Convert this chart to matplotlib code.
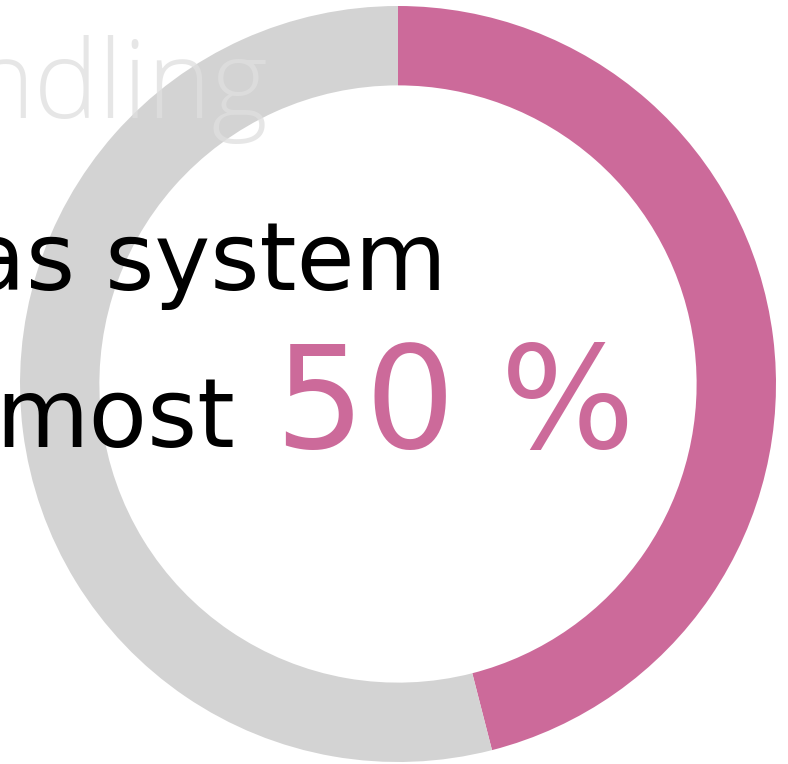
import matplotlib
matplotlib.use("Agg")
import matplotlib.pyplot as plt

# data
categories = ["share", "rest"]
values = [46, 54]
colors = ["#cc6a9a", "#d3d3d3"]
line_top = "ndling"
line_mid = "as system"
line_low = "most"
highlight = "50 %"

W, H = 788, 764
fig = plt.figure(figsize=(W / 100, H / 100), dpi=100)
ax = fig.add_axes([20 / W, 2 / H, 756 / W, 756 / H])
ax.pie(values, colors=colors, startangle=90, counterclock=False,
       radius=1.0, wedgeprops=dict(width=0.21, edgecolor="none"))
ax.set_xlim(-1, 1)
ax.set_ylim(-1, 1)
ax.set_aspect("equal")
ax.axis("off")
ax.set_zorder(1)


def px(x, y):
    return x / W, 1 - y / H

fig.text(*px(268, 118), line_top, ha="right", va="baseline", fontsize=78,
         color=(0.874, 0.874, 0.874), alpha=0.77, family=["Open Sans", "DejaVu Sans"],
         fontweight="light", zorder=5)
fig.text(*px(447, 290), line_mid, ha="right", va="baseline", fontsize=68,
         color="black", family="DejaVu Sans", zorder=5)
fig.text(*px(235, 447), line_low, ha="right", va="baseline", fontsize=69,
         color="black", family="DejaVu Sans", zorder=5)
fig.text(*px(275, 448), highlight, ha="left", va="baseline", fontsize=102,
         color=colors[0], family="DejaVu Sans", zorder=5)

fig.savefig("out.png", dpi=100)
